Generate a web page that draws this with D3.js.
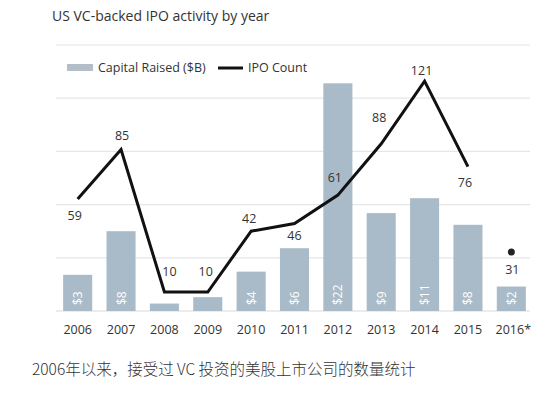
<!DOCTYPE html>
<html>
<head>
<meta charset="utf-8">
<script src="https://cdn.jsdelivr.net/npm/d3@7"></script>
<style>
  body { margin: 0; background: #fff; }
  text { font-family: "Open Sans", sans-serif; }
</style>
</head>
<body>
<div id="chart"></div>
<script>
// data
var years = ["2006", "2007", "2008", "2009", "2010", "2011", "2012", "2013", "2014", "2015", "2016*"];
var capital = [3.4, 7.5, 0.7, 1.3, 3.7, 5.9, 21.4, 9.2, 10.6, 8.1, 2.3];
var capitalLabels = ["$3", "$8", "", "", "$4", "$6", "$22", "$9", "$11", "$8", "$2"];
var ipoCount = [59, 85, 10, 10, 42, 46, 61, 88, 121, 76, 31];
var gridTicks = [0, 5, 10, 15, 20, 25];

// where each count label sits relative to its point [dx, dy]
var labelOffsets = [[-3, 17], [1, -14], [5, -21], [-2, -21], [-2, -13], [0, 12],
                    [-3, -18], [-2, -26], [-3, -11], [-3, 16], [1, 17]];

var width = 550, height = 395;
var svg = d3.select("#chart").append("svg")
  .attr("width", width)
  .attr("height", height);

var x = d3.scaleBand()
  .domain(years)
  .range([56, 533])
  .paddingInner(0.33)
  .paddingOuter(0.165);

var yBar = d3.scaleLinear().domain([0, 25]).range([311, 45]);
var yLine = d3.scaleLinear().domain([0, 140]).range([311, 45]);

// title
svg.append("text")
  .attr("x", 52)
  .attr("y", 21)
  .style("font-size", "14px")
  .style("fill", "#333")
  .text("US VC-backed IPO activity by year");

// gridlines
svg.append("g")
  .selectAll("line")
  .data(gridTicks)
  .enter()
  .append("line")
  .attr("x1", 56)
  .attr("x2", 530)
  .attr("y1", function (d) { return yBar(d); })
  .attr("y2", function (d) { return yBar(d); })
  .style("stroke", function (d) { return d == 0 ? "#d9d9d9" : "#e6e6e6"; })
  .style("stroke-width", 1.2);

// legend
svg.append("rect")
  .attr("x", 67).attr("y", 64)
  .attr("width", 26).attr("height", 7)
  .style("fill", "#b3bec8");
svg.append("text")
  .attr("x", 98).attr("y", 72)
  .style("font-size", "12.5px")
  .style("fill", "#333")
  .text("Capital Raised ($B)");
svg.append("line")
  .attr("x1", 218).attr("x2", 243)
  .attr("y1", 68).attr("y2", 68)
  .style("stroke", "#111")
  .style("stroke-width", 3);
svg.append("text")
  .attr("x", 248).attr("y", 72)
  .style("font-size", "12.5px")
  .style("fill", "#333")
  .text("IPO Count");

// bars
svg.append("g")
  .selectAll("rect")
  .data(capital)
  .enter()
  .append("rect")
  .attr("x", function (d, i) { return x(years[i]); })
  .attr("y", function (d) { return yBar(d); })
  .attr("width", x.bandwidth())
  .attr("height", function (d) { return yBar(0) - yBar(d); })
  .style("fill", "#a9bbc8");

// bar labels, rotated
svg.append("g")
  .selectAll("text")
  .data(capitalLabels)
  .enter()
  .append("text")
  .attr("transform", function (d, i) {
    return "translate(" + (x(years[i]) + x.bandwidth() / 2 + 4.5) + "," + 305 + ") rotate(-90)";
  })
  .style("font-size", "12px")
  .style("fill", "#fff")
  .text(function (d) { return d; });

// IPO count line (2016 shown only as a dot)
var line = d3.line()
  .x(function (d, i) { return x(years[i]) + x.bandwidth() / 2; })
  .y(function (d) { return yLine(d); });

svg.append("path")
  .datum(ipoCount.slice(0, 10))
  .attr("d", line)
  .style("fill", "none")
  .style("stroke", "#111")
  .style("stroke-width", 3)
  .style("stroke-linejoin", "miter");

svg.append("circle")
  .attr("cx", x(years[10]) + x.bandwidth() / 2)
  .attr("cy", yLine(ipoCount[10]))
  .attr("r", 3.5)
  .style("fill", "#222");

// count labels
svg.append("g")
  .selectAll("text")
  .data(ipoCount)
  .enter()
  .append("text")
  .attr("x", function (d, i) { return x(years[i]) + x.bandwidth() / 2 + labelOffsets[i][0]; })
  .attr("y", function (d, i) { return yLine(d) + labelOffsets[i][1] + 4.5; })
  .attr("text-anchor", "middle")
  .style("font-size", "12.5px")
  .style("fill", "#333")
  .text(function (d) { return d; });

// x axis labels
svg.append("g")
  .selectAll("text")
  .data(years)
  .enter()
  .append("text")
  .attr("x", function (d) { return x(d) + x.bandwidth() / 2 + (d == "2016*" ? 2 : 0); })
  .attr("y", 334)
  .attr("text-anchor", "middle")
  .style("font-size", "12.5px")
  .style("fill", "#333")
  .text(function (d) { return d; });

// caption
svg.append("text")
  .attr("x", 32)
  .attr("y", 375)
  .style("font-family", "'Noto Sans CJK SC', sans-serif")
  .style("font-size", "15.5px")
  .style("font-weight", 300)
  .style("fill", "#333")
  .text("2006年以来，接受过 VC 投资的美股上市公司的数量统计");
</script>
</body>
</html>
